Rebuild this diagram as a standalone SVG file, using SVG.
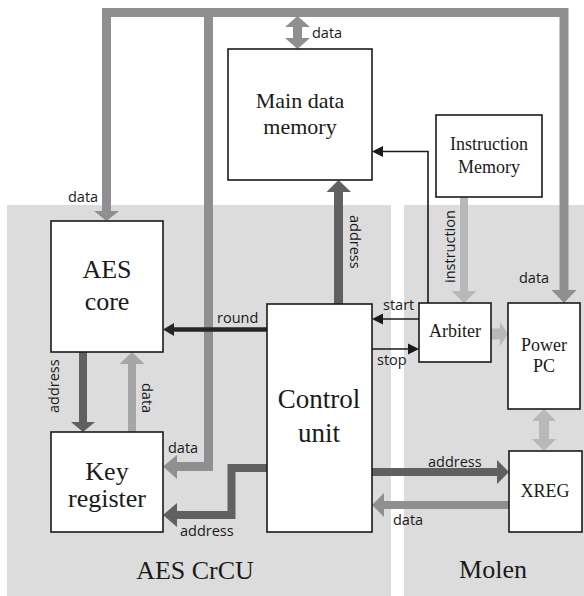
<svg xmlns="http://www.w3.org/2000/svg" width="584" height="596" viewBox="0 0 584 596">
<style>
.box{fill:#fff;stroke:#1a1a1a;stroke-width:1.6}
.serif{font-family:"Liberation Serif","Times New Roman",serif;fill:#1a1a1a;text-anchor:middle}
.lbl{font-family:"Open Sans","Liberation Sans",sans-serif;font-size:14.5px;fill:#1a1a1a}
.bus{fill:none;stroke:#8f8f91;stroke-width:9}
.busH{fill:#8f8f91}
.dk{fill:none;stroke:#606060;stroke-width:8}
.dkH{fill:#606060}
.lt{fill:none;stroke:#a6a6a6;stroke-width:8}
.ltH{fill:#a6a6a6}
.vl{fill:none;stroke:#b8b8b8;stroke-width:9}
.vlH{fill:#b8b8b8}
.thin{fill:none;stroke:#1a1a1a;stroke-width:1.6}
.thinH{fill:#1a1a1a}
</style>
<rect width="584" height="596" fill="#fff"/>
<rect x="7" y="205" width="384" height="391" fill="#dcdcdd"/>
<rect x="404" y="205" width="180" height="391" fill="#dcdcdd"/>
<g id="connectors">
<!-- top bus -->
<path class="bus" d="M106.5,211 V12.5 H564 V291"/>
<path class="bus" d="M208.5,12.5 V466.5 H177"/>
<polygon class="busH" points="94,211 119,211 106.5,221"/>
<polygon class="busH" points="551.5,290 576.5,290 564,303"/>
<polygon class="busH" points="177,455 177,479 163,466.5"/>
<!-- main data memory double arrow -->
<path class="bus" d="M297.5,25 V40"/>
<polygon class="busH" points="285,27 310,27 297.5,16"/>
<polygon class="busH" points="285,38 310,38 297.5,49"/>
<!-- AES core <-> key register -->
<path class="dk" d="M83,352 V423"/>
<polygon class="dkH" points="71,422 95,422 83,432"/>
<path class="lt" d="M132,432 V363"/>
<polygon class="ltH" points="119.5,364 144.5,364 132,352"/>
<!-- CU -> key register address -->
<path class="dk" d="M267,468 H231.5 V515 H177"/>
<polygon class="dkH" points="177,503 177,527 163,515"/>
<!-- round -->
<path fill="none" stroke="#262626" stroke-width="4.5" d="M267,329.5 H172"/>
<polygon fill="#262626" points="174,323 174,336 163,329.5"/>
<!-- CU -> main data memory address -->
<path class="dk" d="M338.5,304 V191" style="stroke-width:9"/>
<polygon class="dkH" points="326.5,192 351,192 338.5,180"/>
<!-- arbiter -> main data memory -->
<path class="thin" d="M428,303 V151.5 H381"/>
<polygon class="thinH" points="383,146 383,157 372,151.5"/>
<!-- start / stop -->
<path class="thin" d="M419,319 H381"/>
<polygon class="thinH" points="383,313.5 383,324.5 372,319"/>
<path class="thin" d="M372,349 H410"/>
<polygon class="thinH" points="408,343.5 408,354.5 419,349"/>
<!-- instruction -->
<path class="vl" d="M464,197 V292" style="stroke-width:8"/>
<polygon class="vlH" points="451.5,291 476.5,291 464,303"/>
<!-- arbiter -> power pc -->
<rect class="vlH" x="491" y="328.5" width="10" height="11"/>
<polygon class="vlH" points="500,322 500,346 508,334"/>
<!-- power pc <-> xreg -->
<rect class="vlH" x="539" y="420" width="10" height="20"/>
<polygon class="vlH" points="532,421 556,421 544,409"/>
<polygon class="vlH" points="532,439 556,439 544,451"/>
<!-- CU -> XREG address -->
<path class="dk" d="M372,472 H498"/>
<polygon class="dkH" points="497,460 497,484 509,472"/>
<!-- XREG -> CU data -->
<path class="bus" d="M509,505 H383" style="stroke-width:8"/>
<polygon class="busH" points="384,493 384,517 372,505"/>
</g>
<g id="labels">
<text class="lbl" x="312" y="38">data</text>
<text class="lbl" x="68" y="202">data</text>
<text class="lbl" x="217" y="323">round</text>
<text class="lbl" x="168" y="453">data</text>
<text class="lbl" x="180" y="536">address</text>
<text class="lbl" transform="translate(59,413) rotate(-90)">address</text>
<text class="lbl" transform="translate(142,383) rotate(90)">data</text>
<text class="lbl" transform="translate(350,215) rotate(90)">address</text>
<text class="lbl" transform="translate(455,283) rotate(-90)">instruction</text>
<text class="lbl" x="519" y="283">data</text>
<text class="lbl" x="383" y="310">start</text>
<text class="lbl" x="377" y="365">stop</text>
<text class="lbl" x="428" y="467">address</text>
<text class="lbl" x="393" y="525">data</text>
<text class="serif" x="195" y="579" font-size="26">AES CrCU</text>
<text class="serif" x="493" y="578" font-size="26">Molen</text>
</g>
<g id="main-data-memory">
<rect class="box" x="228" y="49" width="144" height="131"/>
<text class="serif" x="300" y="108" font-size="22">Main data</text>
<text class="serif" x="300" y="134" font-size="22">memory</text>
</g>
<g id="instruction-memory">
<rect class="box" x="436" y="115" width="106" height="82"/>
<text class="serif" x="489" y="150" font-size="18">Instruction</text>
<text class="serif" x="489" y="173" font-size="18">Memory</text>
</g>
<g id="aes-core">
<rect class="box" x="51" y="221" width="112" height="131"/>
<text class="serif" x="107" y="278" font-size="26">AES</text>
<text class="serif" x="107" y="310" font-size="26">core</text>
</g>
<g id="key-register">
<rect class="box" x="51" y="432" width="112" height="100"/>
<text class="serif" x="107" y="480" font-size="26">Key</text>
<text class="serif" x="107" y="507" font-size="26">register</text>
</g>
<g id="control-unit">
<rect class="box" x="267" y="304" width="105" height="228"/>
<text class="serif" x="319" y="408" font-size="27">Control</text>
<text class="serif" x="319" y="442" font-size="27">unit</text>
</g>
<g id="arbiter">
<rect class="box" x="419" y="303" width="72" height="59"/>
<text class="serif" x="455" y="337" font-size="18">Arbiter</text>
</g>
<g id="power-pc">
<rect class="box" x="508" y="303" width="72" height="106"/>
<text class="serif" x="544" y="351" font-size="18">Power</text>
<text class="serif" x="544" y="372" font-size="18">PC</text>
</g>
<g id="xreg">
<rect class="box" x="509" y="451" width="73" height="81"/>
<text class="serif" x="545" y="497" font-size="18">XREG</text>
</g>
</svg>
